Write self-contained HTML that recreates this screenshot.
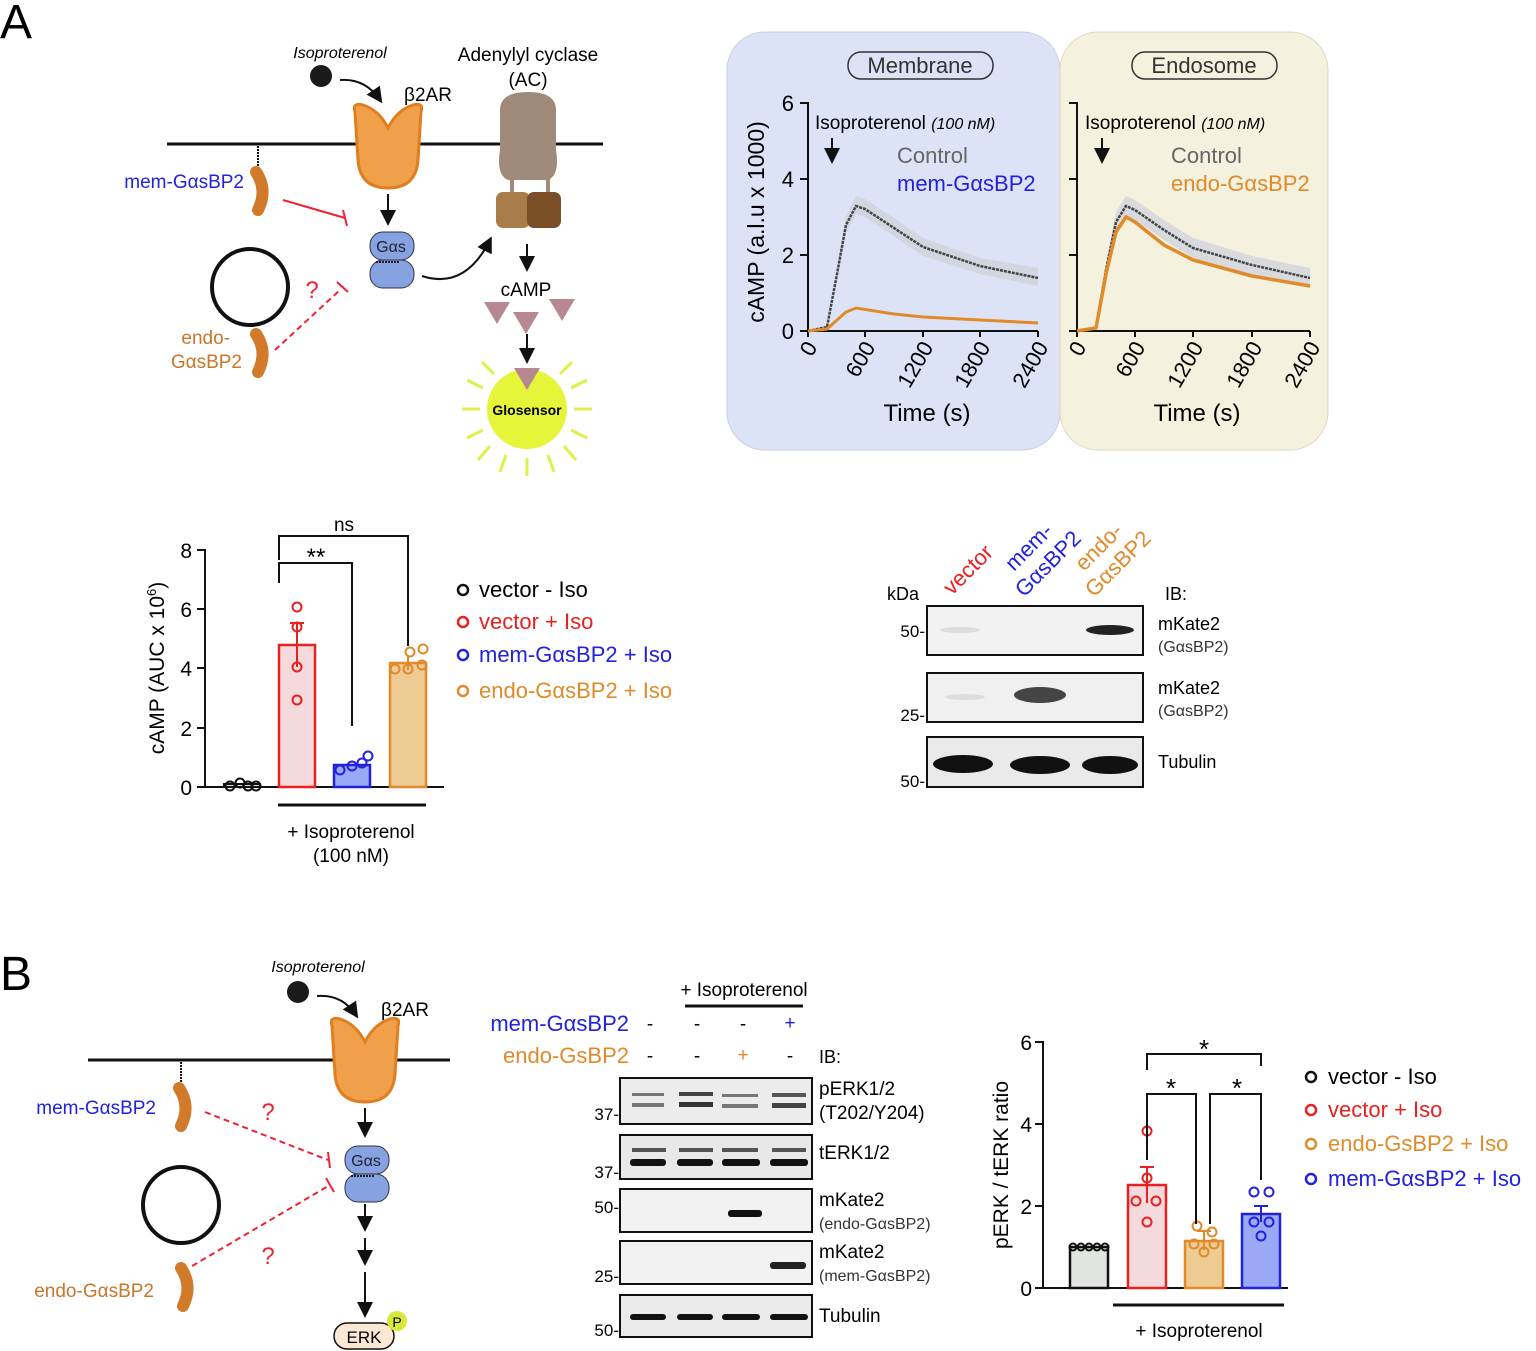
<!DOCTYPE html>
<html><head><meta charset="utf-8"><style>
html,body{margin:0;padding:0;background:#fff}
svg{display:block;font-family:"Liberation Sans",Arial,sans-serif}
</style></head><body>
<svg width="1536" height="1351" viewBox="0 0 1536 1351" xmlns="http://www.w3.org/2000/svg">
<defs>
<g id="rec"><path d="M355,112 Q352,102 363,105 Q379,110 388,128 Q397,110 413,105 Q424,102 421,112 L418,160 Q416,188 388,188 Q360,188 358,160 Z" fill="#f0a04b" stroke="#e07f20" stroke-width="3"/></g>
<g id="gas"><rect x="370" y="232" width="44" height="28" rx="13" fill="#86a2e0" stroke="#334" stroke-width="1"/><rect x="370" y="260" width="44" height="28" rx="13" fill="#86a2e0" stroke="#334" stroke-width="1"/><text x="391" y="252" font-size="16" text-anchor="middle" fill="#223">Gαs</text><path d="M376,262 h24" stroke="#222" stroke-width="2" stroke-dasharray="2,1"/></g>
<g id="bean"><path d="M0,0 Q12,18 2,38" fill="none" stroke="#d07a2a" stroke-width="12" stroke-linecap="round"/></g>
<marker id="ah" markerWidth="8" markerHeight="8" refX="6" refY="4" orient="auto"><path d="M0,0 L8,4 L0,8 Z" fill="#111"/></marker>
</defs>

<!-- ============ A ============ -->
<text x="0" y="38" font-size="48">A</text>
<line x1="167" y1="144" x2="603" y2="144" stroke="#111" stroke-width="3"/>
<text x="340" y="58" font-size="16" font-style="italic" text-anchor="middle">Isoproterenol</text>
<circle cx="321" cy="76" r="11" fill="#1a1a1a"/>
<path d="M340,80 Q365,78 380,100" fill="none" stroke="#111" stroke-width="2" marker-end="url(#ah)"/>
<text x="428" y="101" font-size="19" text-anchor="middle">β2AR</text>
<use href="#rec"/>
<text x="528" y="61" font-size="19" text-anchor="middle">Adenylyl cyclase</text>
<text x="528" y="86" font-size="19" text-anchor="middle">(AC)</text>
<path d="M500,110 Q500,92 528,92 Q556,92 556,110 L556,150 Q560,175 548,180 L508,180 Q496,175 500,150 Z" fill="#a08a7a"/>
<rect x="510" y="178" width="4" height="16" fill="#a08a7a"/><rect x="546" y="178" width="4" height="16" fill="#a08a7a"/>
<rect x="496" y="192" width="34" height="36" rx="7" fill="#a87d4a"/><rect x="527" y="192" width="34" height="36" rx="7" fill="#7a4e26"/>
<path d="M258,146 v24" stroke="#111" stroke-width="2" stroke-dasharray="2,1"/>
<use href="#bean" transform="translate(256,172)"/>
<text x="244" y="188" font-size="19" fill="#2222dd" text-anchor="end">mem-GαsBP2</text>
<line x1="283" y1="200" x2="345" y2="218" stroke="#e23" stroke-width="2"/><line x1="343" y1="210" x2="347" y2="226" stroke="#e23" stroke-width="2"/>
<line x1="388" y1="194" x2="388" y2="222" stroke="#111" stroke-width="2" marker-end="url(#ah)"/>
<use href="#gas"/>
<circle cx="250" cy="287" r="38" fill="none" stroke="#111" stroke-width="4"/>
<use href="#bean" transform="translate(256,334)"/>
<text x="230" y="344" font-size="19" fill="#c8762a" text-anchor="end">endo-</text>
<text x="242" y="368" font-size="19" fill="#c8762a" text-anchor="end">GαsBP2</text>
<text x="312" y="298" font-size="24" fill="#e23" text-anchor="middle">?</text>
<line x1="275" y1="350" x2="340" y2="290" stroke="#e23" stroke-width="2" stroke-dasharray="6,4"/><line x1="337" y1="282" x2="348" y2="292" stroke="#e23" stroke-width="2"/>
<path d="M422,276 Q465,290 490,240" fill="none" stroke="#111" stroke-width="2" marker-end="url(#ah)"/>
<line x1="527" y1="244" x2="527" y2="268" stroke="#111" stroke-width="2" marker-end="url(#ah)"/>
<text x="526" y="296" font-size="19" text-anchor="middle">cAMP</text>
<path d="M484,302 h26 l-13,22 Z M513,312 h26 l-13,22 Z M549,299 h26 l-13,22 Z" fill="#b88890"/>
<line x1="527" y1="334" x2="527" y2="360" stroke="#111" stroke-width="2" marker-end="url(#ah)"/>
<circle cx="527" cy="409" r="40" fill="#e4f53a"/>
<path d="M514,368 h26 l-13,22 Z" fill="#b88890"/>
<g stroke="#dff04a" stroke-width="3">
<line x1="462" y1="409" x2="480" y2="409"/><line x1="574" y1="409" x2="592" y2="409"/>
<line x1="467" y1="380" x2="483" y2="388"/><line x1="571" y1="388" x2="587" y2="380"/>
<line x1="467" y1="438" x2="483" y2="430"/><line x1="571" y1="430" x2="587" y2="438"/>
<line x1="478" y1="460" x2="490" y2="446"/><line x1="564" y1="446" x2="576" y2="460"/>
<line x1="500" y1="472" x2="506" y2="455"/><line x1="548" y1="455" x2="554" y2="472"/>
<line x1="527" y1="458" x2="527" y2="476"/>
<line x1="482" y1="362" x2="494" y2="374"/><line x1="560" y1="374" x2="572" y2="362"/>
</g>
<text x="527" y="415" font-size="14" text-anchor="middle" font-weight="bold">Glosensor</text>

<!-- cAMP time-course panels -->
<rect x="727" y="32" width="333" height="418" rx="38" fill="#dde3f7" stroke="#c8cce0"/>
<rect x="1060" y="32" width="268" height="418" rx="38" fill="#f5f1df" stroke="#ddd8c0"/>
<rect x="848" y="52" width="145" height="27" rx="13" fill="none" stroke="#333" stroke-width="1.5"/>
<text x="920" y="73" font-size="22" text-anchor="middle" fill="#333">Membrane</text>
<rect x="1132" y="52" width="145" height="27" rx="13" fill="none" stroke="#333" stroke-width="1.5"/>
<text x="1204" y="73" font-size="22" text-anchor="middle" fill="#333">Endosome</text>
<g stroke="#111" stroke-width="2" fill="none">
<path d="M800,103 h8 V331 H1038 M800,179 h8 M800,255 h8 M800,331 h8 M808,331 v6 M865,331 v6 M923,331 v6 M980,331 v6 M1038,331 v6"/>
<path d="M1069,103 h8 V331 H1310 M1069,179 h8 M1069,255 h8 M1069,331 h8 M1077,331 v6 M1135,331 v6 M1193,331 v6 M1252,331 v6 M1310,331 v6"/>
</g>
<g font-size="22" text-anchor="end">
<text x="794" y="111">6</text><text x="794" y="187">4</text><text x="794" y="263">2</text><text x="794" y="339">0</text>
</g>
<text transform="translate(764,222) rotate(-90)" font-size="23" text-anchor="middle">cAMP (a.l.u x 1000)</text>
<g font-size="22" text-anchor="end">
<text transform="translate(818,347) rotate(-60)">0</text><text transform="translate(876,347) rotate(-60)">600</text><text transform="translate(934,347) rotate(-60)">1200</text><text transform="translate(991,347) rotate(-60)">1800</text><text transform="translate(1049,347) rotate(-60)">2400</text>
<text transform="translate(1087,347) rotate(-60)">0</text><text transform="translate(1146,347) rotate(-60)">600</text><text transform="translate(1204,347) rotate(-60)">1200</text><text transform="translate(1263,347) rotate(-60)">1800</text><text transform="translate(1321,347) rotate(-60)">2400</text>
</g>
<text x="927" y="421" font-size="24" text-anchor="middle">Time (s)</text>
<text x="1197" y="421" font-size="24" text-anchor="middle">Time (s)</text>
<text x="815" y="129" font-size="19">Isoproterenol <tspan font-style="italic" font-size="16">(100 nM)</tspan></text>
<text x="1085" y="129" font-size="19">Isoproterenol <tspan font-style="italic" font-size="16">(100 nM)</tspan></text>
<line x1="832" y1="138" x2="832" y2="160" stroke="#111" stroke-width="2" marker-end="url(#ah)"/>
<line x1="1102" y1="138" x2="1102" y2="160" stroke="#111" stroke-width="2" marker-end="url(#ah)"/>
<text x="897" y="163" font-size="22" fill="#666">Control</text>
<text x="897" y="191" font-size="22" fill="#2222dd">mem-GαsBP2</text>
<text x="1171" y="163" font-size="22" fill="#666">Control</text>
<text x="1171" y="191" font-size="22" fill="#e08a2a">endo-GαsBP2</text>
<!-- membrane curves -->
<path d="M837,268 L846,216 L856,196 L865,199 L894,218 L923,238 L980,258 L1038,268 L1038,286 L980,274 L923,256 L894,236 L865,217 L856,214 L846,232 L837,280 Z" fill="#cfd2d8" opacity=".8"/>
<polyline points="808,331 827,327 837,274 846,225 856,206 865,209 894,228 923,247 980,266 1038,278" fill="none" stroke="#444" stroke-width="2.5" stroke-dasharray="3,1"/>
<polyline points="808,331 827,329 837,320 846,312 856,308 894,314 923,317 980,320 1038,323" fill="none" stroke="#e08a2a" stroke-width="3"/>
<!-- endosome curves -->
<path d="M1106,262 L1116,212 L1126,196 L1135,200 L1164,220 L1193,238 L1252,256 L1310,268 L1310,288 L1252,276 L1193,258 L1164,240 L1135,220 L1126,216 L1116,232 L1106,278 Z" fill="#d2d4dc" opacity=".8"/>
<polyline points="1077,331 1096,328 1106,270 1116,222 1126,206 1135,210 1164,230 1193,248 1252,265 1310,278" fill="none" stroke="#444" stroke-width="2.5" stroke-dasharray="3,1"/>
<polyline points="1077,331 1096,328 1106,274 1116,232 1126,217 1135,222 1164,245 1193,260 1252,276 1310,286" fill="none" stroke="#e08a2a" stroke-width="3.5"/>

<!-- Bar chart A -->
<g stroke="#111" stroke-width="2" fill="none">
<path d="M197,550 h8 V787 H444 M197,609 h8 M197,668 h8 M197,728 h8 M197,787 h8"/>
</g>
<g font-size="21" text-anchor="end"><text x="192" y="558">8</text><text x="192" y="617">6</text><text x="192" y="676">4</text><text x="192" y="736">2</text><text x="192" y="795">0</text></g>
<text transform="translate(164,668) rotate(-90)" font-size="21" text-anchor="middle">cAMP (AUC x 10<tspan font-size="13" dy="-8">6</tspan><tspan dy="8">)</tspan></text>
<rect x="224" y="784" width="36" height="3" fill="#ddd" stroke="#111" stroke-width="2"/>
<rect x="279" y="645" width="36" height="142" fill="#f5dadd" stroke="#e82020" stroke-width="2.5"/>
<rect x="334" y="765" width="36" height="22" fill="#9aa8f5" stroke="#2222dd" stroke-width="2.5"/>
<rect x="390" y="663" width="36" height="124" fill="#edcb92" stroke="#e08a2a" stroke-width="2.5"/>
<g stroke="#e82020" stroke-width="2" fill="none"><line x1="297" y1="623" x2="297" y2="667"/><line x1="290" y1="623" x2="304" y2="623"/><circle cx="297" cy="607" r="4.5"/><circle cx="297" cy="627" r="4.5"/><circle cx="297" cy="667" r="4.5"/><circle cx="297" cy="700" r="4.5"/></g>
<g stroke="#2222dd" stroke-width="2" fill="none"><circle cx="340" cy="770" r="4.5"/><circle cx="352" cy="766" r="4.5"/><circle cx="362" cy="763" r="4.5"/><circle cx="368" cy="756" r="4.5"/></g>
<g stroke="#e08a2a" stroke-width="2" fill="none"><line x1="408" y1="655" x2="408" y2="670"/><circle cx="395" cy="669" r="4.5"/><circle cx="408" cy="669" r="4.5"/><circle cx="422" cy="665" r="4.5"/><circle cx="410" cy="652" r="4.5"/><circle cx="423" cy="649" r="4.5"/></g>
<g stroke="#111" stroke-width="2" fill="none"><circle cx="230" cy="786" r="4.5"/><circle cx="240" cy="783" r="4.5"/><circle cx="248" cy="786" r="4.5"/><circle cx="256" cy="786" r="4.5"/></g>
<g stroke="#111" stroke-width="2" fill="none"><path d="M279,583 V563 H352 V726"/><path d="M279,560 V536 H408 V646"/></g>
<text x="316" y="565" font-size="24" text-anchor="middle">**</text>
<text x="344" y="531" font-size="19" text-anchor="middle">ns</text>
<line x1="278" y1="805" x2="426" y2="805" stroke="#111" stroke-width="3"/>
<text x="351" y="838" font-size="19" text-anchor="middle">+ Isoproterenol</text>
<text x="351" y="862" font-size="19" text-anchor="middle">(100 nM)</text>
<g font-size="22">
<circle cx="463" cy="590" r="5" fill="none" stroke="#111" stroke-width="2.5"/><text x="479" y="597">vector - Iso</text>
<circle cx="463" cy="622" r="5" fill="none" stroke="#e82020" stroke-width="2.5"/><text x="479" y="629" fill="#e82020">vector + Iso</text>
<circle cx="463" cy="655" r="5" fill="none" stroke="#2222dd" stroke-width="2.5"/><text x="479" y="662" fill="#2222dd">mem-GαsBP2 + Iso</text>
<circle cx="463" cy="691" r="5" fill="none" stroke="#e08a2a" stroke-width="2.5"/><text x="479" y="698" fill="#e08a2a">endo-GαsBP2 + Iso</text>
</g>

<!-- Blot A -->
<text transform="translate(952,596) rotate(-45)" font-size="22" fill="#e82020">vector</text>
<text transform="translate(1014,572) rotate(-45)" font-size="22" fill="#2222dd">mem-</text>
<text transform="translate(1024,598) rotate(-45)" font-size="22" fill="#2222dd">GαsBP2</text>
<text transform="translate(1084,572) rotate(-45)" font-size="22" fill="#e08a2a">endo-</text>
<text transform="translate(1094,598) rotate(-45)" font-size="22" fill="#e08a2a">GαsBP2</text>
<text x="887" y="600" font-size="18">kDa</text>
<text x="1165" y="600" font-size="18">IB:</text>
<rect x="927" y="606" width="216" height="49" fill="#f2f2f2" stroke="#111" stroke-width="2"/>
<rect x="927" y="673" width="216" height="49" fill="#f0f0f0" stroke="#111" stroke-width="2"/>
<rect x="927" y="737" width="216" height="50" fill="#eaeaea" stroke="#111" stroke-width="2"/>
<ellipse cx="1110" cy="630" rx="24" ry="5" fill="#222"/>
<ellipse cx="960" cy="630" rx="20" ry="3" fill="#ddd"/>
<ellipse cx="1040" cy="695" rx="26" ry="8" fill="#444"/>
<ellipse cx="965" cy="697" rx="20" ry="3" fill="#ddd"/>
<ellipse cx="963" cy="764" rx="30" ry="9" fill="#111"/><ellipse cx="1040" cy="765" rx="30" ry="9" fill="#111"/><ellipse cx="1110" cy="765" rx="28" ry="9" fill="#111"/>
<g font-size="17" text-anchor="end"><text x="925" y="637">50-</text><text x="925" y="721">25-</text><text x="925" y="787">50-</text></g>
<text x="1158" y="630" font-size="18">mKate2</text><text x="1158" y="652" font-size="16" fill="#333">(GαsBP2)</text>
<text x="1158" y="694" font-size="18">mKate2</text><text x="1158" y="716" font-size="16" fill="#333">(GαsBP2)</text>
<text x="1158" y="768" font-size="18">Tubulin</text>

<!-- ============ B ============ -->
<text x="0" y="990" font-size="48">B</text>
<line x1="88" y1="1060" x2="450" y2="1060" stroke="#111" stroke-width="3"/>
<text x="318" y="972" font-size="16" font-style="italic" text-anchor="middle">Isoproterenol</text>
<circle cx="298" cy="992" r="11" fill="#1a1a1a"/>
<path d="M317,996 Q342,994 356,1015" fill="none" stroke="#111" stroke-width="2" marker-end="url(#ah)"/>
<text x="405" y="1016" font-size="19" text-anchor="middle">β2AR</text>
<use href="#rec" transform="translate(-23,914)"/>
<line x1="365" y1="1108" x2="365" y2="1134" stroke="#111" stroke-width="2" marker-end="url(#ah)"/>
<use href="#gas" transform="translate(-25,914)"/>
<line x1="365" y1="1204" x2="365" y2="1228" stroke="#111" stroke-width="2" marker-end="url(#ah)"/>
<line x1="365" y1="1238" x2="365" y2="1262" stroke="#111" stroke-width="2" marker-end="url(#ah)"/>
<line x1="365" y1="1272" x2="365" y2="1314" stroke="#111" stroke-width="2" marker-end="url(#ah)"/>
<rect x="334" y="1323" width="60" height="26" rx="13" fill="#fbe8d4" stroke="#111" stroke-width="1.5"/>
<text x="364" y="1343" font-size="17" text-anchor="middle">ERK</text>
<circle cx="397" cy="1321" r="10" fill="#d8e83a"/><text x="397" y="1327" font-size="14" text-anchor="middle">P</text>
<path d="M181,1062 v24" stroke="#111" stroke-width="2" stroke-dasharray="2,1"/>
<use href="#bean" transform="translate(179,1088)"/>
<text x="156" y="1114" font-size="19" fill="#2222dd" text-anchor="end">mem-GαsBP2</text>
<line x1="205" y1="1112" x2="328" y2="1160" stroke="#e23" stroke-width="2" stroke-dasharray="6,4"/><line x1="328" y1="1152" x2="330" y2="1168" stroke="#e23" stroke-width="2"/>
<text x="268" y="1120" font-size="24" fill="#e23" text-anchor="middle">?</text>
<circle cx="181" cy="1205" r="38" fill="none" stroke="#111" stroke-width="4"/>
<use href="#bean" transform="translate(181,1268)"/>
<text x="154" y="1297" font-size="19" fill="#c8762a" text-anchor="end">endo-GαsBP2</text>
<line x1="192" y1="1266" x2="330" y2="1185" stroke="#e23" stroke-width="2" stroke-dasharray="6,4"/><line x1="326" y1="1178" x2="334" y2="1192" stroke="#e23" stroke-width="2"/>
<text x="268" y="1264" font-size="24" fill="#e23" text-anchor="middle">?</text>

<!-- Blot B -->
<text x="744" y="996" font-size="19" text-anchor="middle">+ Isoproterenol</text>
<line x1="685" y1="1006" x2="803" y2="1006" stroke="#111" stroke-width="3"/>
<text x="629" y="1031" font-size="22" fill="#2222dd" text-anchor="end">mem-GαsBP2</text>
<text x="629" y="1063" font-size="22" fill="#e08a2a" text-anchor="end">endo-GsBP2</text>
<g font-size="19" text-anchor="middle">
<text x="650" y="1030">-</text><text x="697" y="1030">-</text><text x="743" y="1030">-</text><text x="790" y="1029" fill="#2222dd">+</text>
<text x="650" y="1062">-</text><text x="697" y="1062">-</text><text x="743" y="1061" fill="#e08a2a">+</text><text x="790" y="1062">-</text>
</g>
<text x="819" y="1063" font-size="18">IB:</text>
<rect x="620" y="1078" width="192" height="46" fill="#ececec" stroke="#111" stroke-width="2"/>
<rect x="620" y="1135" width="192" height="44" fill="#e8e8e8" stroke="#111" stroke-width="2"/>
<rect x="620" y="1189" width="192" height="43" fill="#f2f2f2" stroke="#111" stroke-width="2"/>
<rect x="620" y="1241" width="192" height="43" fill="#f2f2f2" stroke="#111" stroke-width="2"/>
<rect x="620" y="1295" width="192" height="42" fill="#eaeaea" stroke="#111" stroke-width="2"/>
<g fill="#777"><rect x="632" y="1093" width="32" height="3"/><rect x="679" y="1092" width="34" height="4" fill="#444"/><rect x="722" y="1094" width="36" height="3"/><rect x="772" y="1093" width="34" height="4" fill="#555"/>
<rect x="632" y="1103" width="32" height="4"/><rect x="679" y="1102" width="34" height="5" fill="#333"/><rect x="722" y="1104" width="36" height="4"/><rect x="772" y="1103" width="34" height="5" fill="#444"/></g>
<g fill="#555"><rect x="632" y="1148" width="34" height="4"/><rect x="679" y="1148" width="34" height="4"/><rect x="722" y="1148" width="36" height="4"/><rect x="772" y="1148" width="34" height="4"/></g>
<g fill="#111"><rect x="630" y="1159" width="36" height="7" rx="3"/><rect x="677" y="1159" width="36" height="7" rx="3"/><rect x="722" y="1159" width="38" height="7" rx="3"/><rect x="770" y="1159" width="38" height="7" rx="3"/></g>
<rect x="728" y="1210" width="34" height="7" rx="3" fill="#111"/>
<rect x="770" y="1262" width="36" height="7" rx="3" fill="#222"/>
<g fill="#111"><rect x="630" y="1314" width="36" height="6" rx="3"/><rect x="677" y="1314" width="36" height="6" rx="3"/><rect x="722" y="1314" width="38" height="6" rx="3"/><rect x="770" y="1314" width="38" height="6" rx="3"/></g>
<g font-size="17" text-anchor="end"><text x="619" y="1120">37-</text><text x="619" y="1178">37-</text><text x="619" y="1213">50-</text><text x="619" y="1282">25-</text><text x="619" y="1336">50-</text></g>
<g font-size="19"><text x="819" y="1095">pERK1/2</text><text x="819" y="1119">(T202/Y204)</text><text x="819" y="1159">tERK1/2</text>
<text x="819" y="1206">mKate2</text><text x="819" y="1229" font-size="16" fill="#333">(endo-GαsBP2)</text>
<text x="819" y="1258">mKate2</text><text x="819" y="1281" font-size="16" fill="#333">(mem-GαsBP2)</text>
<text x="819" y="1322">Tubulin</text></g>

<!-- Bar chart B -->
<g stroke="#111" stroke-width="2" fill="none"><path d="M1035,1042 h8 V1288 H1288 M1035,1124 h8 M1035,1206 h8 M1035,1288 h8"/></g>
<g font-size="21" text-anchor="end"><text x="1032" y="1050">6</text><text x="1032" y="1132">4</text><text x="1032" y="1214">2</text><text x="1032" y="1296">0</text></g>
<text transform="translate(1008,1165) rotate(-90)" font-size="21" text-anchor="middle">pERK / tERK ratio</text>
<rect x="1070" y="1247" width="38" height="41" fill="#e2e4e2" stroke="#111" stroke-width="2.5"/>
<rect x="1128" y="1185" width="38" height="103" fill="#f5dadd" stroke="#e82020" stroke-width="2.5"/>
<rect x="1185" y="1241" width="38" height="47" fill="#edcb92" stroke="#e08a2a" stroke-width="2.5"/>
<rect x="1242" y="1214" width="38" height="74" fill="#9aa8f5" stroke="#2222dd" stroke-width="2.5"/>
<g stroke="#111" stroke-width="2" fill="none"><circle cx="1073" cy="1247" r="3.5"/><circle cx="1081" cy="1247" r="3.5"/><circle cx="1089" cy="1247" r="3.5"/><circle cx="1097" cy="1247" r="3.5"/><circle cx="1105" cy="1247" r="3.5"/></g>
<g stroke="#e82020" stroke-width="2" fill="none"><path d="M1147,1167 V1203 M1140,1167 h14"/><circle cx="1147" cy="1131" r="4.5"/><circle cx="1147" cy="1178" r="4.5"/><circle cx="1136" cy="1201" r="4.5"/><circle cx="1156" cy="1201" r="4.5"/><circle cx="1147" cy="1222" r="4.5"/></g>
<g stroke="#e08a2a" stroke-width="2" fill="none"><path d="M1204,1231 V1250 M1197,1231 h14"/><circle cx="1197" cy="1226" r="4.5"/><circle cx="1212" cy="1232" r="4.5"/><circle cx="1194" cy="1244" r="4.5"/><circle cx="1214" cy="1244" r="4.5"/><circle cx="1204" cy="1252" r="4.5"/></g>
<g stroke="#2222dd" stroke-width="2" fill="none"><path d="M1261,1206 V1222 M1254,1206 h14"/><circle cx="1254" cy="1192" r="4.5"/><circle cx="1269" cy="1192" r="4.5"/><circle cx="1254" cy="1222" r="4.5"/><circle cx="1269" cy="1222" r="4.5"/><circle cx="1261" cy="1236" r="4.5"/></g>
<g stroke="#111" stroke-width="2" fill="none"><path d="M1147,1160 V1094 H1196 V1224"/><path d="M1210,1224 V1094 H1261 V1180"/><path d="M1147,1070 V1054 H1261 V1066"/></g>
<g font-size="26" text-anchor="middle"><text x="1171" y="1097">*</text><text x="1237" y="1097">*</text><text x="1204" y="1058">*</text></g>
<line x1="1113" y1="1305" x2="1284" y2="1305" stroke="#111" stroke-width="3"/>
<text x="1199" y="1337" font-size="19" text-anchor="middle">+ Isoproterenol</text>
<g font-size="22">
<circle cx="1311" cy="1077" r="5" fill="none" stroke="#111" stroke-width="2.5"/><text x="1328" y="1084">vector - Iso</text>
<circle cx="1311" cy="1110" r="5" fill="none" stroke="#e82020" stroke-width="2.5"/><text x="1328" y="1117" fill="#e82020">vector + Iso</text>
<circle cx="1311" cy="1144" r="5" fill="none" stroke="#e08a2a" stroke-width="2.5"/><text x="1328" y="1151" fill="#e08a2a">endo-GsBP2 + Iso</text>
<circle cx="1311" cy="1179" r="5" fill="none" stroke="#2222dd" stroke-width="2.5"/><text x="1328" y="1186" fill="#2222dd">mem-GαsBP2 + Iso</text>
</g>
</svg>
</body></html>
